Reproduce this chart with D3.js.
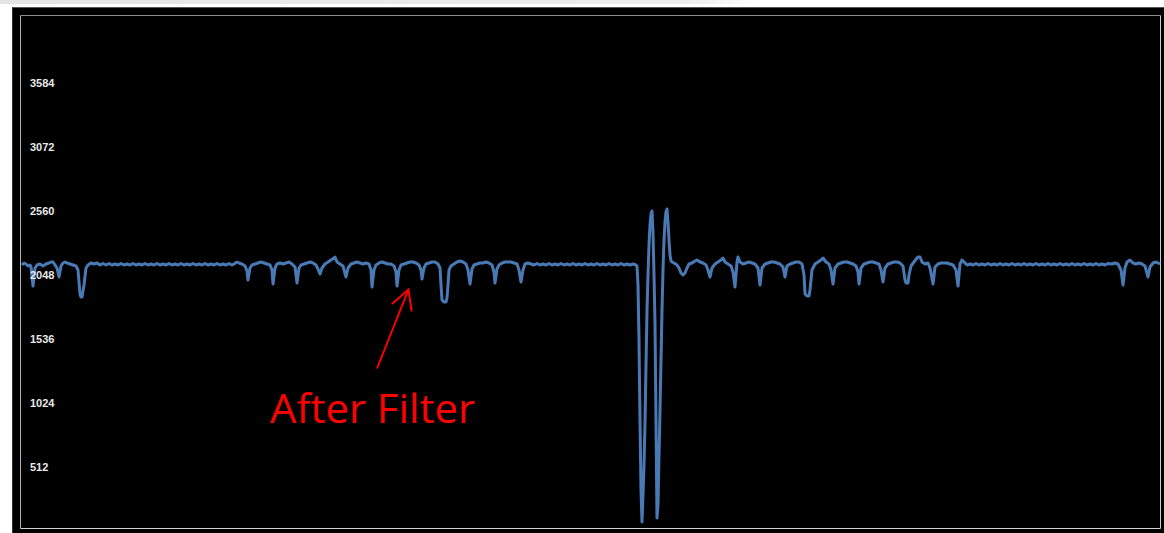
<!DOCTYPE html>
<html>
<head>
<meta charset="utf-8">
<script src="https://cdn.jsdelivr.net/npm/d3@7"></script>
<style>
  html, body { margin: 0; padding: 0; background: #fff; }
  svg { display: block; }
</style>
</head>
<body>
<svg id="chart" width="1164" height="533"></svg>
<script>
const leadIn = [[2,2128],[4,2144],[6,2136],[8,2120],[10,2128],[11,2112],[13,1960],[15,2104],[17,2128],[20,2136],[23,2120],[26,2136],[29,2144],[31,2152],[33,2152],[35,2128],[37,2104],[39,2032],[41,2120],[43,2144],[45,2152],[47,2144],[50,2136],[53,2128],[56,2120],[58,2088],[60,1896],[61,1872],[62,1872],[64,1968],[66,2104],[68,2128],[71,2144],[74,2136],[77,2144]];

const quiet1 = [[80,2128],[83,2140],[86,2128],[89,2140],[92,2128],[95,2136],[98,2128],[101,2140],[104,2128],[107,2136],[110,2128],[113,2140],[116,2128],[119,2136],[122,2128],[125,2140],[128,2128],[131,2136],[134,2128],[137,2140],[140,2128],[143,2136],[146,2128],[149,2140],[152,2128],[155,2136],[158,2128],[161,2140],[164,2128],[167,2136],[170,2128],[173,2140],[176,2128],[179,2136],[182,2128],[185,2140],[188,2128],[191,2136],[194,2128],[197,2140],[200,2128],[203,2136],[206,2128],[209,2140],[212,2128],[214,2136],[217,2152]];

const burst1 = [[219,2144],[222,2136],[225,2120],[227,2080],[228,2008],[230,2104],[232,2128],[235,2136],[238,2144],[241,2152],[244,2144],[247,2136],[250,2128],[252,2088],[253,1976],[255,2104],[257,2136],[260,2144],[263,2136],[266,2144],[269,2152],[272,2136],[275,2112],[277,1984],[279,2104],[281,2128],[284,2136],[287,2144],[290,2152],[293,2144],[296,2128],[298,2096],[300,2056],[302,2104],[305,2136],[308,2152],[311,2168],[314,2184],[315,2192],[317,2152],[320,2136],[323,2120],[326,2032],[328,2104],[331,2136],[334,2144],[337,2152],[340,2144],[343,2136],[346,2144],[349,2136],[351,2088],[352,1952],[354,2088],[356,2128],[359,2144],[362,2152],[365,2144],[368,2136],[371,2136],[374,2120],[376,2072],[377,1960],[379,2088],[381,2128],[384,2136],[387,2144],[390,2152],[393,2152],[396,2144],[399,2128],[401,2088],[402,2016],[404,2104],[406,2136],[409,2144],[412,2152],[415,2152],[418,2136],[420,2104],[421,1968],[422,1848],[424,1832],[426,1832],[427,1864],[428,1968],[429,2088],[431,2120],[434,2136],[437,2152],[440,2160],[443,2152],[446,2136],[448,2088],[450,1976],[452,2096],[454,2128],[457,2136],[460,2144],[463,2144],[466,2152],[469,2144],[472,2128],[474,2072],[475,1984],[477,2096],[479,2128],[482,2144],[485,2152],[488,2152],[491,2152],[494,2144],[497,2136],[499,2088],[501,1992],[503,2088],[505,2136],[508,2144]];

const quiet2 = [[511,2136],[514,2128],[517,2140],[520,2128],[523,2136],[526,2128],[529,2140],[532,2128],[535,2136],[538,2128],[541,2140],[544,2128],[547,2136],[550,2128],[553,2140],[556,2128],[559,2136],[562,2128],[565,2140],[568,2128],[571,2136],[574,2128],[577,2140],[580,2128],[583,2136],[586,2128],[589,2140],[592,2128],[595,2136],[598,2128],[601,2140],[604,2128],[607,2136],[610,2128],[613,2136],[616,2128]];

const artifact = [[617,2120],[618,1968],[619,1528],[620,888],[621,328],[622,72],[623,288],[624,528],[625,864],[626,1328],[627,1768],[628,2048],[629,2288],[630,2448],[631,2536],[632,2560],[633,2392],[634,2048],[635,1664],[636,864],[637,104],[638,208],[639,592],[640,968],[641,1368],[642,1768],[643,2088],[644,2328],[645,2472],[646,2552],[647,2576],[648,2472],[649,2328],[650,2208],[651,2160],[652,2152],[654,2144],[657,2128],[659,2104],[661,2064],[663,2048],[665,2064],[667,2104],[669,2136],[672,2144],[675,2160],[677,2168]];

const burst2 = [[680,2152],[683,2144],[686,2128],[688,2088],[690,2032],[692,2104],[695,2136],[698,2152],[701,2168],[703,2184],[705,2152],[708,2136],[711,2120],[713,2072],[715,1952],[717,2152],[718,2192],[720,2152],[723,2136],[726,2144],[729,2152],[732,2144],[735,2136],[738,2104],[740,1968],[742,2104],[745,2136],[748,2144],[751,2152],[754,2152],[757,2144],[760,2136],[763,2112],[765,2032],[767,2120],[770,2136],[773,2144],[776,2152],[779,2152],[782,2136],[784,2048],[785,1896],[787,1880],[789,1880],[790,1928],[792,2088],[795,2136],[798,2152],[801,2168],[803,2184],[806,2152],[809,2136],[811,2088],[813,1976],[815,2104],[818,2136],[821,2144],[824,2152],[827,2152],[830,2144],[833,2136],[836,2120],[838,2072],[839,1976],[841,2104],[844,2136],[847,2144],[850,2152],[853,2152],[856,2144],[859,2136],[861,2088],[863,1992],[865,2104],[868,2136],[871,2144],[874,2152],[877,2152],[880,2144],[883,2120],[885,2008],[886,1984],[888,1984],[889,2048],[891,2120],[894,2152],[897,2184],[898,2192],[900,2192],[902,2152],[905,2136],[908,2144],[910,2104],[913,1976],[915,2112],[918,2136],[921,2144],[924,2144],[927,2144],[930,2136],[933,2128],[936,2088],[938,1960],[940,2136],[942,2168],[944,2152],[947,2128],[950,2136]];

const quiet3 = [[953,2128],[956,2140],[959,2128],[962,2136],[965,2128],[968,2140],[971,2128],[974,2136],[977,2128],[980,2140],[983,2128],[986,2136],[989,2128],[992,2140],[995,2128],[998,2136],[1001,2128],[1004,2140],[1007,2128],[1010,2136],[1013,2128],[1016,2140],[1019,2128],[1022,2136],[1025,2128],[1028,2140],[1031,2128],[1034,2136],[1037,2128],[1040,2140],[1043,2128],[1046,2136],[1049,2128],[1052,2140],[1055,2128],[1058,2136],[1061,2128],[1064,2140],[1067,2128],[1070,2136],[1073,2128],[1076,2140],[1079,2128],[1082,2136],[1085,2128],[1088,2140],[1092,2136]];

const tail = [[1095,2144],[1098,2136],[1101,2088],[1103,1968],[1105,2104],[1107,2152],[1110,2168],[1113,2144],[1116,2136],[1119,2144],[1122,2136],[1125,2120],[1128,2032],[1130,2112],[1133,2144],[1136,2152],[1140,2136]];

const yTicks = [512, 1024, 1536, 2048, 2560, 3072, 3584];
const annotation = "After Filter";

const trace = [].concat(leadIn, quiet1, burst1, quiet2, artifact, burst2, quiet3, tail);

const svg = d3.select("#chart");

// faint window shadow along the top edge
const defs = svg.append("defs");
const grad = defs.append("linearGradient").attr("id", "shade").attr("x1", 0).attr("x2", 1);
grad.append("stop").attr("offset", "0%").attr("stop-color", "#e4e4e4");
grad.append("stop").attr("offset", "90%").attr("stop-color", "#ececec");
grad.append("stop").attr("offset", "100%").attr("stop-color", "#fff");
svg.append("rect").attr("x", 0).attr("y", 0).attr("width", 760).attr("height", 4).attr("fill", "url(#shade)");

// black scope panel
svg.append("rect").attr("x", 12).attr("y", 7).attr("width", 1152).attr("height", 526).attr("fill", "#000");
svg.append("line").attr("x1", 12).attr("x2", 1164).attr("y1", 7.5).attr("y2", 7.5).attr("stroke", "#555");
svg.append("line").attr("x1", 12.5).attr("x2", 12.5).attr("y1", 7).attr("y2", 533).attr("stroke", "#333");

// plot frame
const plot = { left: 20, top: 15, right: 1160, bottom: 528 };
svg.append("path")
  .attr("d", `M${plot.left + 0.5},${plot.bottom + 0.5}V${plot.top + 0.5}H${plot.right + 0.5}`)
  .attr("fill", "none").attr("stroke", "#8c8c8c");
svg.append("path")
  .attr("d", `M${plot.left + 0.5},${plot.bottom + 0.5}H${plot.right + 0.5}V${plot.top + 0.5}`)
  .attr("fill", "none").attr("stroke", "#cfcfcf");
svg.append("line")
  .attr("x1", plot.left + 0.5).attr("x2", plot.left + 0.5)
  .attr("y1", plot.top + 1).attr("y2", plot.bottom)
  .attr("stroke", "#b4b4b4");

const x = d3.scaleLinear().domain([0, 1140]).range([plot.left, plot.right]);
const y = d3.scaleLinear().domain([0, 4096]).range([531, 19]);

// the signal
svg.append("path")
  .datum(trace)
  .attr("d", d3.line().x((d) => x(d[0])).y((d) => y(d[1])))
  .attr("fill", "none")
  .attr("stroke", "#4a7ab5")
  .attr("stroke-width", 3)
  .attr("stroke-linejoin", "round");

// y labels sit inside the frame, drawn over the trace, no tick marks
const yAxis = svg.append("g")
  .attr("transform", "translate(30,0)")
  .call(d3.axisRight(y).tickValues(yTicks).tickFormat(d3.format("d")).tickSize(0).tickPadding(0));
yAxis.select(".domain").remove();
yAxis.selectAll("text")
  .attr("fill", "#e8e8e8")
  .style("font-family", "'Liberation Sans', Arial, sans-serif")
  .style("font-weight", "bold")
  .style("font-size", "11px");

// red callout
const red = "#ff0000";
const tip = [408.5, 289.5];
const tailPt = [377, 368.5];
svg.append("line")
  .attr("x1", tailPt[0]).attr("y1", tailPt[1]).attr("x2", tip[0]).attr("y2", tip[1])
  .attr("stroke", red).attr("stroke-width", 2);
svg.append("path")
  .attr("d", `M392.5,303.5L${tip[0]},${tip[1]}L411.5,310.5`)
  .attr("fill", "none").attr("stroke", red).attr("stroke-width", 2).attr("stroke-linecap", "round");
svg.append("text")
  .attr("x", 270).attr("y", 423)
  .attr("fill", red)
  .attr("textLength", 205)
  .attr("lengthAdjust", "spacingAndGlyphs")
  .style("font-family", "'Open Sans', sans-serif")
  .style("font-size", "40px")
  .text(annotation);
</script>
</body>
</html>
